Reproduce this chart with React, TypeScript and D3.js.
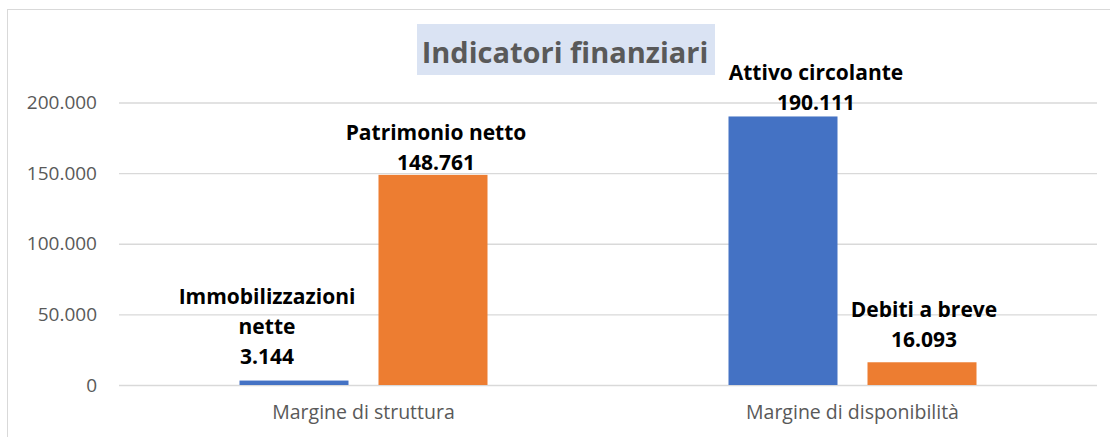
import { useEffect, useRef } from 'react';
import { select, scaleBand, scaleLinear, axisLeft, format } from 'd3';

// categories (x axis)
const categories = ['Margine di struttura', 'Margine di disponibilità'];
// each category has two bars: [blue, orange]
const seriesNames = [
    ['Immobilizzazioni nette', 'Patrimonio netto'],
    ['Attivo circolante', 'Debiti a breve'],
];
const seriesValues = [
    [3144, 148761],
    [190111, 16093],
];
const yTicks = [0, 50000, 100000, 150000, 200000];
const title = 'Indicatori finanziari';

const colors = ['#4472C4', '#ED7D31'];

// manual label placement (Excel labels were dragged around)
const labelLayout = [
    [{ dx: -27, gap: 17, wrapAt: 1 }, { dx: 3, gap: 5, wrapAt: 0 }],
    [{ dx: 33, gap: 6, wrapAt: 0 }, { dx: 2, gap: 15, wrapAt: 0 }],
];

const App = () => {
    const svgRef = useRef(null);
    const width = 1110;
    const height = 437;

    useEffect(() => {
        const margin = { top: 102.5, right: 13, bottom: 52, left: 119 };
        const plotWidth = width - margin.left - margin.right;
        const plotHeight = height - margin.top - margin.bottom;

        const svg = select(svgRef.current);
        svg.selectAll('*').remove();

        // chart border
        svg.append('rect')
            .attr('x', 7.5).attr('y', 9.5)
            .attr('width', width).attr('height', height)
            .attr('fill', 'white')
            .attr('stroke', '#D9D9D9');

        const g = svg.append('g').attr('transform', `translate(${margin.left},${margin.top})`);

        const x0 = scaleBand().domain(categories).range([0, plotWidth]);
        const barW = 109;
        const gap = 30;
        const y = scaleLinear().domain([0, 200000]).range([plotHeight, 0]);
        const fmt = d => format(',')(d).replace(/,/g, '.');

        // gridlines + tick labels
        const yAxis = axisLeft(y)
            .tickValues(yTicks)
            .tickSize(-plotWidth)
            .tickPadding(22)
            .tickFormat(fmt);
        const ya = g.append('g').call(yAxis);
        ya.select('.domain').remove();
        ya.selectAll('.tick line').attr('stroke', '#D9D9D9').attr('stroke-width', 1.3);
        ya.selectAll('.tick text')
            .attr('fill', '#595959')
            .attr('font-family', '"Open Sans", sans-serif')
            .attr('font-size', 19);

        // category labels
        g.selectAll('.cat')
            .data(categories)
            .enter().append('text')
            .attr('x', d => x0(d) + x0.bandwidth() / 2)
            .attr('y', plotHeight + 34)
            .attr('text-anchor', 'middle')
            .attr('fill', '#595959')
            .attr('font-family', '"Open Sans", sans-serif')
            .attr('font-size', 19.5)
            .text(d => d);

        categories.forEach((cat, ci) => {
            const center = x0(cat) + x0.bandwidth() / 2;
            seriesValues[ci].forEach((v, si) => {
                const bx = si === 0 ? center - gap / 2 - barW : center + gap / 2;
                g.append('rect')
                    .attr('x', bx)
                    .attr('y', y(v))
                    .attr('width', barW)
                    .attr('height', plotHeight - y(v))
                    .attr('fill', colors[si]);

                const lay = labelLayout[ci][si];
                const words = seriesNames[ci][si].split(' ');
                const nameLines = lay.wrapAt
                    ? [words.slice(0, lay.wrapAt).join(' '), words.slice(lay.wrapAt).join(' ')]
                    : [seriesNames[ci][si]];
                const lines = [...nameLines, fmt(v)];
                const lx = bx + barW / 2 + lay.dx;
                const lastY = y(v) - lay.gap;
                lines.forEach((txt, li) => {
                    g.append('text')
                        .attr('x', lx)
                        .attr('y', lastY - (lines.length - 1 - li) * 30)
                        .attr('text-anchor', 'middle')
                        .attr('fill', '#000')
                        .attr('font-family', '"Open Sans", sans-serif')
                        .attr('font-weight', 700)
                        .attr('font-size', 21)
                        .text(txt);
                });
            });
        });

        // title with shaded box
        svg.append('rect')
            .attr('x', 417).attr('y', 24)
            .attr('width', 298).attr('height', 51)
            .attr('fill', '#DAE3F3');
        svg.append('text')
            .attr('x', 565)
            .attr('y', 63)
            .attr('text-anchor', 'middle')
            .attr('fill', '#595959')
            .attr('font-family', '"Open Sans", sans-serif')
            .attr('font-weight', 700)
            .attr('font-size', 29)
            .text(title);
    }, []);

    return (
        <svg
            ref={svgRef}
            width={width}
            height={height}
            style={{ position: 'absolute', left: 0, top: 0 }}
        />
    );
};

export default App;
